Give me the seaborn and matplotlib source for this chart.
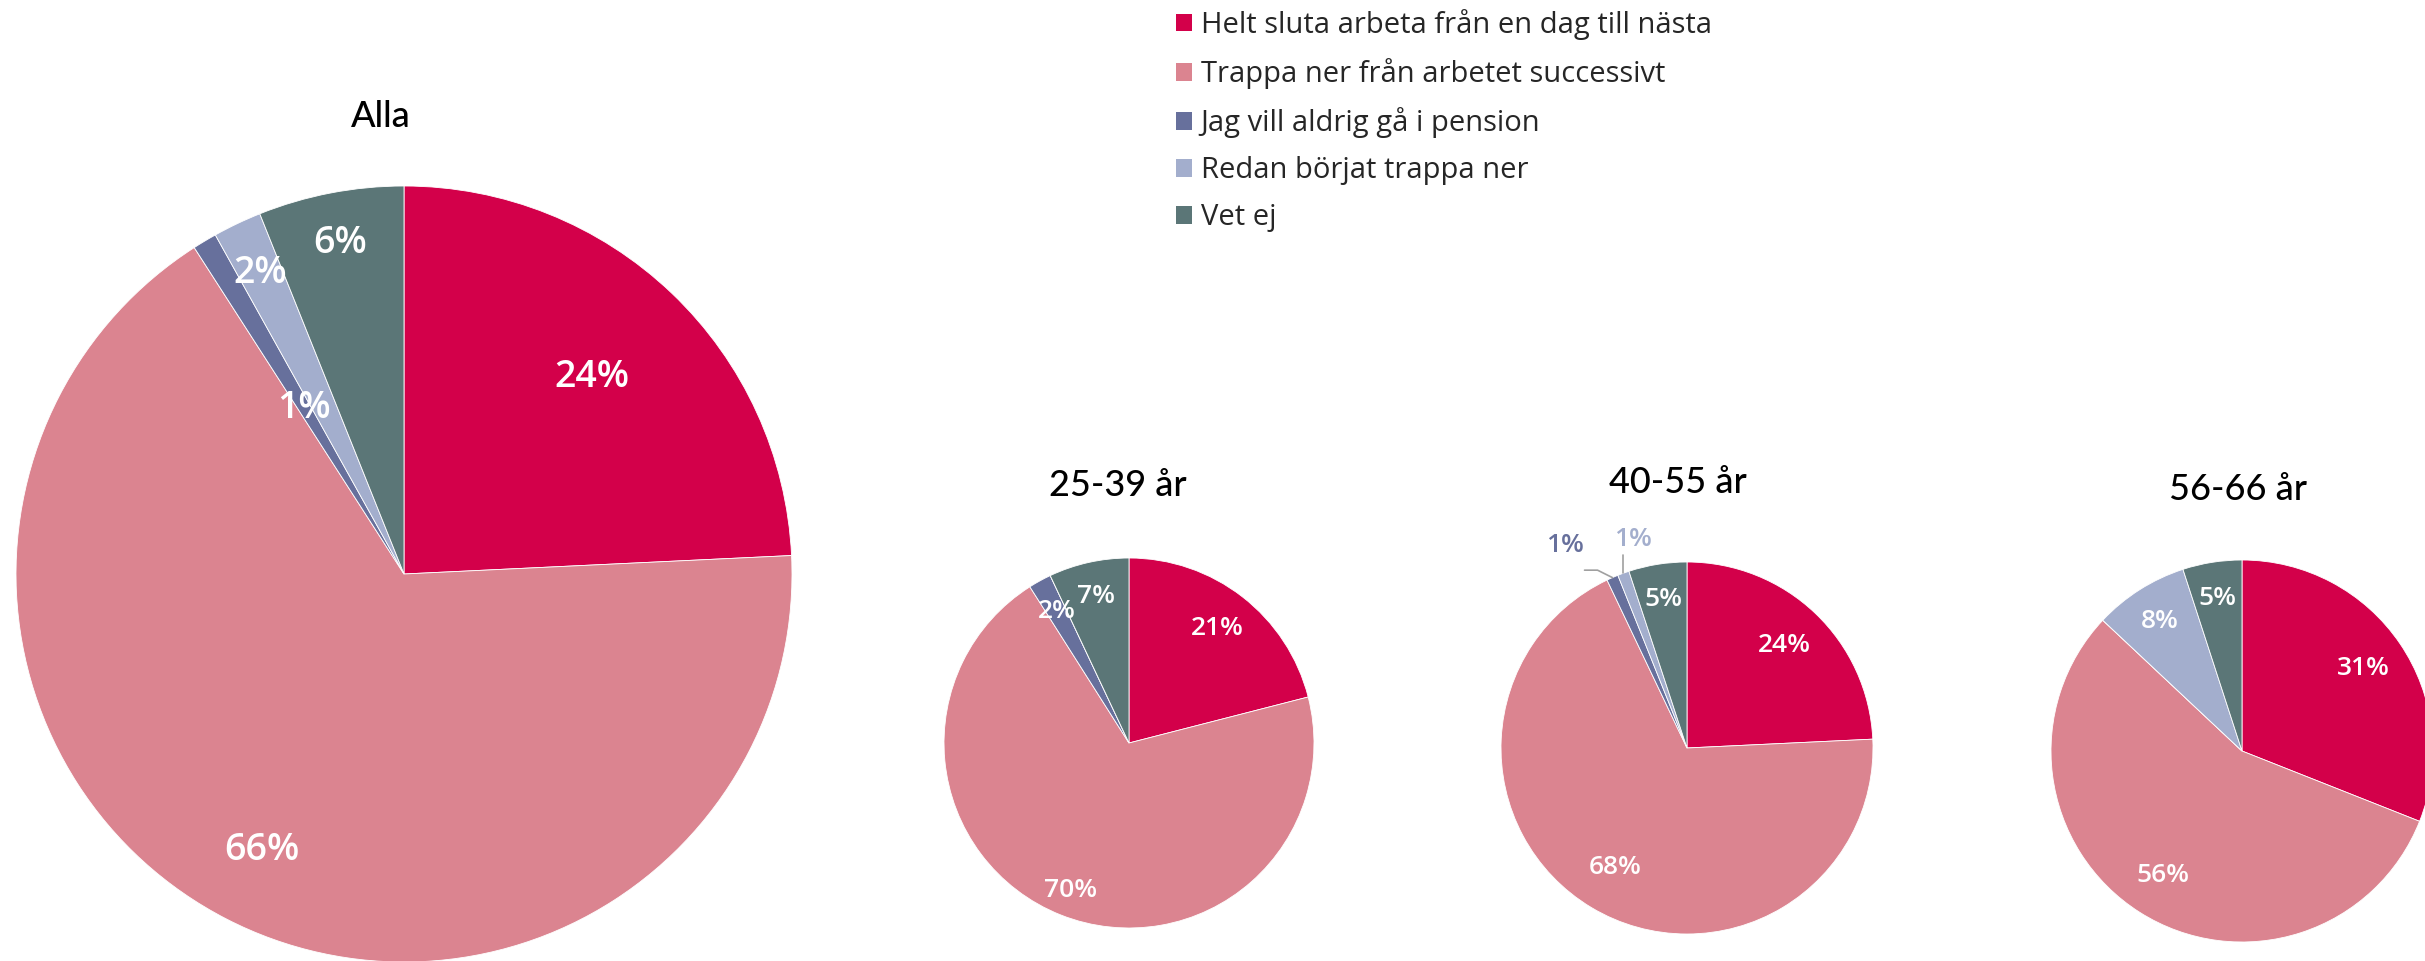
import numpy as np
import matplotlib
matplotlib.use("Agg")
import matplotlib.pyplot as plt
from matplotlib.patches import Patch
import seaborn as sns

# Data
categories = ["Helt sluta arbeta från en dag till nästa",
              "Trappa ner från arbetet successivt",
              "Jag vill aldrig gå i pension",
              "Redan börjat trappa ner",
              "Vet ej"]
groups = ["Alla", "25-39 år", "40-55 år", "56-66 år"]
alla = [24, 66, 1, 2, 6]
age_25_39 = [21, 70, 2, 0, 7]
age_40_55 = [24, 68, 1, 1, 5]
age_56_66 = [31, 56, 0, 8, 5]
colors = ["#D3004A", "#DB8490", "#67709C", "#A3AECD", "#5B7677"]

sns.set_theme(style="white")
plt.rcParams['font.family'] = ['Lato', 'DejaVu Sans']
label_font = ['Open Sans', 'DejaVu Sans']

W, H = 2425, 961
fig = plt.figure(figsize=(W / 100, H / 100), dpi=100)
fig.patch.set_facecolor("white")

# pie centre (px), radius (px), title pos, label radii / angle shifts, label size
layout = [
    dict(cx=404, cy=574, r=388, ty=1.18, tx=-0.06, fs=27,
         lr=[0.70, 0.80, 0.50, 0.86, 0.87], da=[0, 0, 0, 0, 0]),
    dict(cx=1129, cy=743, r=185, ty=1.39, tx=-0.06, fs=19,
         lr=[0.78, 0.86, 0.81, None, 0.81], da=[0, 0, 0, 0, 0]),
    dict(cx=1687, cy=748, r=186, ty=1.43, tx=-0.05, fs=19,
         lr=[0.76, 0.75, 1.27, 1.16, 0.81], da=[0, 0, 7.5, -5.5, 0]),
    dict(cx=2242, cy=751, r=191, ty=1.37, tx=-0.02, fs=19,
         lr=[0.77, 0.77, None, 0.80, 0.81], da=[0, 0, 0, 0, 0]),
]
data = [alla, age_25_39, age_40_55, age_56_66]
m = 1.5

for name, vals, lay in zip(groups, data, layout):
    cx, cy, r = lay["cx"], lay["cy"], lay["r"]
    ax = fig.add_axes([(cx - r * m) / W, 1 - (cy + r * m) / H,
                       2 * r * m / W, 2 * r * m / H])
    wedges, _ = ax.pie(vals, colors=colors, startangle=90, counterclock=False,
                       radius=1, wedgeprops=dict(edgecolor="white", linewidth=0.6))
    ax.set_xlim(-m, m)
    ax.set_ylim(-m, m)
    ax.set_aspect("equal")
    ax.axis("off")
    ax.text(lay["tx"], lay["ty"], name, ha="center", va="center",
            fontsize=26, color="black", fontweight="medium")
    for w, v, rf, da, c in zip(wedges, vals, lay["lr"], lay["da"], colors):
        if rf is None or v == 0:
            continue
        mid = np.deg2rad((w.theta1 + w.theta2) / 2)
        ang = mid + np.deg2rad(da)
        x, y = rf * np.cos(ang), rf * np.sin(ang)
        if rf > 1:
            # outside label with a thin leader line
            ax.text(x, y, f"{v}%", ha="center", va="center", family=label_font,
                    fontsize=lay["fs"], color=c, fontweight="semibold")
            ex, ey = np.cos(mid), np.sin(mid)
            if rf > 1.2:
                ax.plot([ex, ex - 0.08, ex - 0.15], [ey, ey + 0.04, ey + 0.04],
                        color="#A0A0A0", lw=1.2, clip_on=False)
            else:
                ax.plot([ex, ex], [ey, ey + 0.10],
                        color="#A0A0A0", lw=1.2, clip_on=False)
        else:
            ax.text(x, y, f"{v}%", ha="center", va="center", family=label_font,
                    fontsize=lay["fs"], color="white", fontweight="semibold")

handles = [Patch(facecolor=c, edgecolor="none", label=l) for c, l in zip(colors, categories)]
fig.legend(handles=handles, loc="upper left", bbox_to_anchor=(1176 / W, 1 - 9 / H),
           frameon=False, prop=dict(family=label_font, size=21),
           handlelength=0.55, handleheight=0.55,
           handletextpad=0.3, labelspacing=0.62, borderaxespad=0, borderpad=0)

fig.savefig("out.png", dpi=100, facecolor="white")
